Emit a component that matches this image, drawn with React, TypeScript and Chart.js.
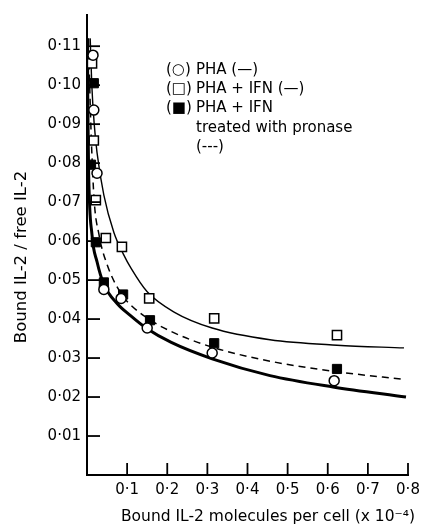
import React, { useEffect, useRef } from "react";
import { Chart, registerables } from "chart.js";
Chart.register(...registerables);

const FONT = '"DejaVu Sans", sans-serif';

// Tick values
const xTickValues = [0.1, 0.2, 0.3, 0.4, 0.5, 0.6, 0.7, 0.8];
const yTickValues = [0.01, 0.02, 0.03, 0.04, 0.05, 0.06, 0.07, 0.08, 0.09, 0.1, 0.11];

// (○) PHA
const phaX = [0.015, 0.017, 0.025, 0.042, 0.085, 0.15, 0.312, 0.616];
const phaY = [0.1077, 0.0936, 0.0774, 0.0476, 0.0453, 0.0377, 0.0313, 0.0242];

// (□) PHA + IFN
const ifnX = [0.0125, 0.017, 0.022, 0.047, 0.087, 0.155, 0.317, 0.623];
const ifnY = [0.1056, 0.0858, 0.0705, 0.0608, 0.0585, 0.0453, 0.0402, 0.0359];

// (■) PHA + IFN treated with pronase
const proX = [0.017, 0.01, 0.022, 0.042, 0.09, 0.157, 0.317, 0.623];
const proY = [0.1005, 0.0796, 0.0597, 0.0494, 0.0463, 0.0397, 0.0338, 0.0272];

// Fitted curves
const phaCurveX = [0.0012, 0.002, 0.004, 0.0125, 0.025, 0.042, 0.075, 0.107, 0.15, 0.21, 0.312, 0.456, 0.613, 0.795];
const phaCurveY = [0.112, 0.095, 0.078, 0.0616, 0.0547, 0.0489, 0.044, 0.041, 0.0375, 0.034, 0.0298, 0.0255, 0.0226, 0.02];

const ifnCurveX = [0.008, 0.012, 0.018, 0.025, 0.042, 0.067, 0.09, 0.11, 0.15, 0.217, 0.312, 0.456, 0.623, 0.79];
const ifnCurveY = [0.112, 0.1, 0.09, 0.0827, 0.0718, 0.0622, 0.0568, 0.053, 0.047, 0.0418, 0.0377, 0.0347, 0.0333, 0.0326];

const proCurveX = [0.004, 0.008, 0.017, 0.03, 0.05, 0.085, 0.107, 0.157, 0.21, 0.312, 0.456, 0.623, 0.79];
const proCurveY = [0.112, 0.095, 0.0718, 0.0616, 0.054, 0.0465, 0.0438, 0.0398, 0.0368, 0.0328, 0.0292, 0.0265, 0.0245];

// Legend rows: [symbol, text]
const legendRows: [string, string][] = [
  ["(○)", "PHA (—)"],
  ["(□)", "PHA + IFN (—)"],
  ["(■)", "PHA + IFN"],
  ["", "treated with pronase"],
  ["", "(---)"],
];

const xTitle = "Bound IL-2 molecules per cell (x 10⁻⁴)";
const yTitle = "Bound IL-2 / free IL-2";

const toPts = (xs: number[], ys: number[]) => xs.map((x, i) => ({ x, y: ys[i] }));

export default function App() {
  const ref = useRef<HTMLCanvasElement>(null);
  useEffect(() => {
    document.body.style.margin = "0";
    const canvas = ref.current!;
    const overlay = {
      id: "overlay",
      afterDraw(chart: any) {
        const ctx = chart.ctx as CanvasRenderingContext2D;
        const xs = chart.scales.x;
        const ys = chart.scales.y;
        const area = chart.chartArea;
        ctx.save();
        ctx.strokeStyle = "#000";
        ctx.lineWidth = 1.8;
        yTickValues.forEach((v) => {
          const py = ys.getPixelForValue(v);
          ctx.beginPath();
          ctx.moveTo(area.left, py);
          ctx.lineTo(area.left + 13, py);
          ctx.stroke();
        });
        xTickValues.forEach((v) => {
          const px = xs.getPixelForValue(v);
          ctx.beginPath();
          ctx.moveTo(px, area.bottom);
          ctx.lineTo(px, area.bottom - 12);
          ctx.stroke();
        });
        ctx.fillStyle = "#000";
        ctx.textBaseline = "middle";
        // x title
        ctx.font = `15.5px ${FONT}`;
        ctx.textAlign = "center";
        ctx.fillText(xTitle, 268, 517);
        // y title
        ctx.save();
        ctx.translate(22, 257);
        ctx.rotate(-Math.PI / 2);
        ctx.font = `16.5px ${FONT}`;
        ctx.fillText(yTitle, 0, 0);
        ctx.restore();
        // legend
        ctx.textAlign = "left";
        ctx.font = `15px ${FONT}`;
        const rowY = [70, 89, 108, 128, 147];
        legendRows.forEach(([sym, txt], i) => {
          if (sym) ctx.fillText(sym, 166, rowY[i]);
          ctx.fillText(txt, 196, rowY[i]);
        });
        ctx.restore();
      },
    };

    const chart = new Chart(canvas, {
      type: "scatter",
      data: {
        datasets: [
          {
            label: "PHA",
            data: toPts(phaX, phaY),
            pointStyle: "circle",
            pointRadius: 5,
            backgroundColor: "#fff",
            borderColor: "#000",
            borderWidth: 1.5,
            showLine: false,
          },
          {
            label: "PHA + IFN",
            data: toPts(ifnX, ifnY),
            pointStyle: "rect",
            pointRadius: 6.5,
            backgroundColor: "#fff",
            borderColor: "#000",
            borderWidth: 1.5,
            showLine: false,
          },
          {
            label: "PHA + IFN treated with pronase",
            data: toPts(proX, proY),
            pointStyle: "rect",
            pointRadius: 6.5,
            backgroundColor: "#000",
            borderColor: "#000",
            borderWidth: 1,
            showLine: false,
          },
          {
            label: "PHA fit",
            data: toPts(phaCurveX, phaCurveY),
            showLine: true,
            pointRadius: 0,
            borderColor: "#000",
            borderWidth: 3,
            cubicInterpolationMode: "monotone",
          },
          {
            label: "PHA + IFN fit",
            data: toPts(ifnCurveX, ifnCurveY),
            showLine: true,
            pointRadius: 0,
            borderColor: "#000",
            borderWidth: 1.4,
            cubicInterpolationMode: "monotone",
          },
          {
            label: "pronase fit",
            data: toPts(proCurveX, proCurveY),
            showLine: true,
            pointRadius: 0,
            borderColor: "#000",
            borderWidth: 1.5,
            borderDash: [7, 5],
            cubicInterpolationMode: "monotone",
          },
        ],
      },
      options: {
        animation: false,
        responsive: false,
        maintainAspectRatio: false,
        layout: { padding: { left: 0, right: 18, top: 11, bottom: 0 } },
        plugins: { legend: { display: false }, tooltip: { enabled: false }, title: { display: false } },
        scales: {
          x: {
            type: "linear",
            min: 0,
            max: 0.8,
            grid: { display: false, drawTicks: false },
            border: { display: true, color: "#000", width: 2 },
            afterBuildTicks: (s: any) => {
              s.ticks = xTickValues.map((v) => ({ value: v }));
            },
            afterFit: (s: any) => {
              s.height = 51;
            },
            ticks: {
              autoSkip: false,
              maxRotation: 0,
              padding: 6,
              color: "#000",
              font: { family: FONT, size: 15 },
              callback: (v: any) => Number(v).toFixed(1).replace(".", "·"),
            },
          },
          y: {
            type: "linear",
            min: 0,
            max: 0.118,
            grid: { display: false, drawTicks: false },
            border: { display: true, color: "#000", width: 2 },
            afterBuildTicks: (s: any) => {
              s.ticks = yTickValues.map((v) => ({ value: v }));
            },
            afterFit: (s: any) => {
              s.width = 87;
            },
            ticks: {
              autoSkip: false,
              padding: 6,
              color: "#000",
              font: { family: FONT, size: 15 },
              callback: (v: any) => Number(v).toFixed(2).replace(".", "·"),
            },
          },
        },
      },
      plugins: [overlay],
    });
    return () => chart.destroy();
  }, []);
  return <canvas ref={ref} width={426} height={526} style={{ display: "block" }} />;
}
